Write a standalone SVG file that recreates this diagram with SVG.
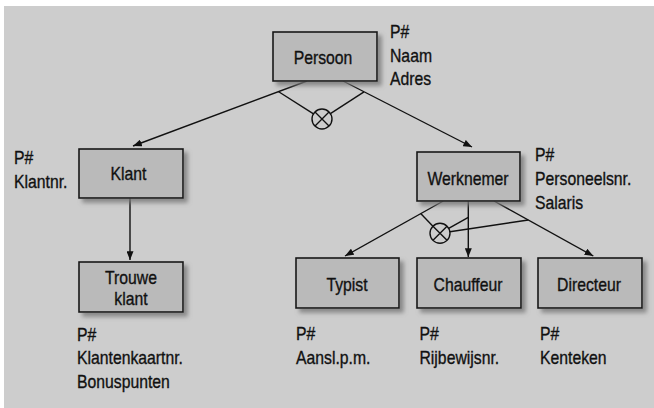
<svg xmlns="http://www.w3.org/2000/svg" width="654" height="408" viewBox="0 0 654 408">
<defs>
<filter id="sh" x="-20%" y="-20%" width="150%" height="160%">
<feDropShadow dx="4" dy="4" stdDeviation="2" flood-color="#777" flood-opacity="0.8"/>
</filter>
<marker id="ah" viewBox="0 0 10 8" refX="10" refY="4" markerWidth="9" markerHeight="7" markerUnits="userSpaceOnUse" orient="auto">
<path d="M0,0 L10,4 L0,8 Z" fill="#111"/>
</marker>
<style>
.box{fill:#bababa;stroke:#1a1a1a;stroke-width:1.6;filter:url(#sh)}
text{font-family:"Liberation Sans",Arial,sans-serif;font-size:19px;fill:#111;stroke:#111;stroke-width:0.35}
.c{text-anchor:middle}
.ln{stroke:#111;stroke-width:1.4;fill:none}
.arr{marker-end:url(#ah)}
</style>
</defs>
<rect x="0" y="0" width="654" height="408" fill="#ffffff"/>
<rect x="4" y="6" width="650" height="402" fill="#cdcdcd"/>

<g id="connectors">
<line class="ln arr" x1="307" y1="81" x2="133" y2="146"/>
<line class="ln arr" x1="343" y1="81" x2="472" y2="147"/>
<line class="ln" x1="278.3" y1="91.5" x2="313.5" y2="113.8"/>
<line class="ln" x1="364" y1="91.8" x2="330.4" y2="113.6"/>
<circle class="ln" cx="322" cy="119" r="10"/>
<path class="ln" d="M315,112 L329,126 M329,112 L315,126"/>

<line class="ln arr" x1="130" y1="198" x2="130" y2="260"/>

<line class="ln arr" x1="443.3" y1="201" x2="345" y2="256"/>
<line class="ln arr" x1="468.3" y1="201" x2="468.3" y2="257"/>
<line class="ln arr" x1="494" y1="201" x2="593.3" y2="256"/>
<line class="ln" x1="420.7" y1="213.6" x2="432.9" y2="226.2"/>
<line class="ln" x1="468.3" y1="217.3" x2="448.7" y2="228.4"/>
<line class="ln" x1="528.3" y1="220" x2="449.9" y2="231.8"/>
<circle class="ln" cx="440" cy="233.3" r="10"/>
<path class="ln" d="M433,226.3 L447,240.3 M447,226.3 L433,240.3"/>
</g>

<g id="persoon">
<rect class="box" x="273" y="32" width="104" height="49"/>
<text class="c" transform="translate(323,63.5) scale(0.83,1)">Persoon</text>
<text transform="translate(390,38) scale(0.83,1)">P#</text>
<text transform="translate(390,61.5) scale(0.83,1)">Naam</text>
<text transform="translate(390,85) scale(0.83,1)">Adres</text>
</g>

<g id="klant">
<rect class="box" x="79" y="149" width="104" height="49"/>
<text class="c" transform="translate(128.5,180) scale(0.83,1)">Klant</text>
<text transform="translate(14,164) scale(0.83,1)">P#</text>
<text transform="translate(14,188) scale(0.83,1)">Klantnr.</text>
</g>

<g id="werknemer">
<rect class="box" x="417" y="152" width="103" height="49"/>
<text class="c" transform="translate(468,184.5) scale(0.83,1)">Werknemer</text>
<text transform="translate(535,161) scale(0.83,1)">P#</text>
<text transform="translate(535,185) scale(0.83,1)">Personeelsnr.</text>
<text transform="translate(535,208.5) scale(0.83,1)">Salaris</text>
</g>

<g id="trouweklant">
<rect class="box" x="79" y="262" width="104" height="50"/>
<text class="c" transform="translate(131,283.5) scale(0.83,1)">Trouwe</text>
<text class="c" transform="translate(131,304.5) scale(0.83,1)">klant</text>
<text transform="translate(77,340.5) scale(0.83,1)">P#</text>
<text transform="translate(77,364) scale(0.83,1)">Klantenkaartnr.</text>
<text transform="translate(77,387.5) scale(0.83,1)">Bonuspunten</text>
</g>

<g id="typist">
<rect class="box" x="296" y="258" width="103" height="50"/>
<text class="c" transform="translate(347,291) scale(0.83,1)">Typist</text>
<text transform="translate(296,340) scale(0.83,1)">P#</text>
<text transform="translate(296,363.5) scale(0.83,1)">Aansl.p.m.</text>
</g>

<g id="chauffeur">
<rect class="box" x="417" y="258" width="104" height="50"/>
<text class="c" transform="translate(468,291) scale(0.83,1)">Chauffeur</text>
<text transform="translate(419.5,340) scale(0.83,1)">P#</text>
<text transform="translate(419.5,363.5) scale(0.83,1)">Rijbewijsnr.</text>
</g>

<g id="directeur">
<rect class="box" x="538" y="258" width="104" height="50"/>
<text class="c" transform="translate(589,291) scale(0.83,1)">Directeur</text>
<text transform="translate(540,340) scale(0.83,1)">P#</text>
<text transform="translate(540,363.5) scale(0.83,1)">Kenteken</text>
</g>
</svg>
